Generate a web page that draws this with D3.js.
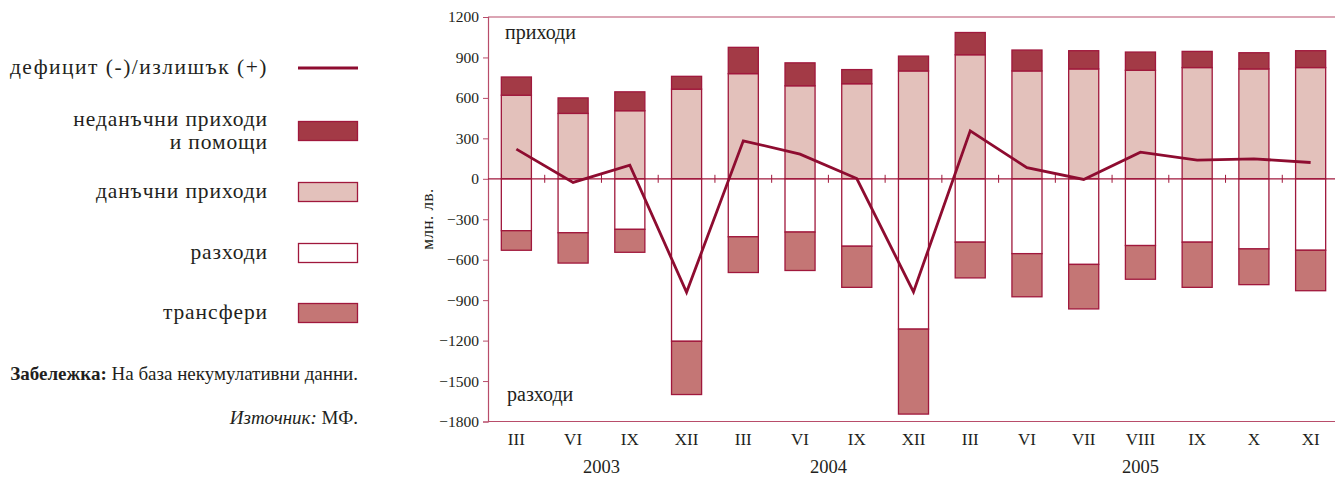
<!DOCTYPE html>
<html>
  <head>
    <meta charset="utf-8">
    <script src="https://d3js.org/d3.v7.min.js"></script>
    <style>
      body { margin: 0; background: #fff; }
    </style>
  </head>
  <body>
    <svg id="chart" width="1335" height="477"></svg>
    <script>
      // months and years
      let months = ['III', 'VI', 'IX', 'XII', 'III', 'VI', 'IX', 'XII', 'III', 'VI', 'VII', 'VIII', 'IX', 'X', 'XI'];
      let years = [{label: '2003', from: 0, to: 3}, {label: '2004', from: 4, to: 7}, {label: '2005', from: 8, to: 14}];

      // млн. лв.
      let taxRevenue    = [620, 485, 505, 665, 780, 690, 705, 800, 920, 800, 815, 805, 825, 815, 825];
      let nonTaxRevenue = [135, 115, 140, 95, 195, 170, 105, 110, 165, 155, 135, 135, 120, 120, 125];
      let expenditure   = [-385, -400, -375, -1205, -430, -395, -500, -1115, -470, -555, -635, -495, -470, -520, -530];
      let transfers     = [-145, -225, -170, -395, -265, -285, -305, -630, -265, -320, -330, -250, -335, -265, -300];
      let balance       = [220, -27, 101, -842, 282, 183, 2, -839, 356, 82, -5, 197, 138, 148, 121];

      let yTicks = [1200, 900, 600, 300, 0, -300, -600, -900, -1200, -1500, -1800];

      let FONT = '"Liberation Serif", "Times New Roman", "DejaVu Serif", serif';
      let stroke = '#a0183c';
      let colTax = '#e3c1bb', colNonTax = '#a33a46', colExp = '#ffffff', colTr = '#c47675';
      let axisCol = '#b84d6a';
      let ink = '#231f20';

      let svg = d3.select('#chart')
        .attr('font-family', FONT);

      let x = d3.scaleBand()
        .domain(d3.range(months.length))
        .range([488, 1339])
        .paddingInner(0.47)
        .paddingOuter(0.235);

      let y = d3.scaleLinear()
        .domain([-1800, 1200])
        .range([421.5, 17]);

      let data = months.map((m, i) => ({
        i: i,
        tax: taxRevenue[i],
        nonTax: nonTaxRevenue[i],
        exp: expenditure[i],
        tr: transfers[i],
        bal: balance[i]
      }));

      // segments: [start, end, fill]
      let segs = [];
      data.forEach(d => {
        segs.push({i: d.i, a: 0, b: d.tax, fill: colTax});
        segs.push({i: d.i, a: d.tax, b: d.tax + d.nonTax, fill: colNonTax});
        segs.push({i: d.i, a: 0, b: d.exp, fill: colExp});
        segs.push({i: d.i, a: d.exp, b: d.exp + d.tr, fill: colTr});
      });

      svg.append('g').selectAll('rect')
        .data(segs)
        .enter().append('rect')
        .attr('x', d => x(d.i))
        .attr('width', x.bandwidth())
        .attr('y', d => y(Math.max(d.a, d.b)))
        .attr('height', d => Math.abs(y(d.a) - y(d.b)))
        .attr('fill', d => d.fill)
        .attr('stroke', stroke)
        .attr('stroke-width', 1.3);

      // frame
      svg.append('line')
        .attr('x1', 488).attr('x2', 1335)
        .attr('y1', y(1200)).attr('y2', y(1200))
        .attr('stroke', axisCol).attr('stroke-width', 1.2);
      svg.append('line')
        .attr('x1', 488).attr('x2', 1335)
        .attr('y1', y(-1800)).attr('y2', y(-1800))
        .attr('stroke', axisCol).attr('stroke-width', 1.2);

      // y axis
      let yAxis = d3.axisLeft(y)
        .tickValues(yTicks)
        .tickSize(5)
        .tickPadding(4)
        .tickFormat(d3.format('d'));

      let ya = svg.append('g')
        .attr('transform', 'translate(488,0)')
        .call(yAxis)
        .attr('font-family', FONT);
      ya.select('.domain').attr('stroke', axisCol).attr('stroke-width', 1.2);
      ya.selectAll('.tick line').attr('stroke', axisCol);
      ya.selectAll('.tick text')
        .attr('font-size', 15.5)
        .attr('fill', ink);

      // zero line with small ticks between bands
      svg.append('line')
        .attr('x1', 488).attr('x2', 1335)
        .attr('y1', y(0)).attr('y2', y(0))
        .attr('stroke', stroke).attr('stroke-width', 1.2);

      let step = x.step();
      svg.append('g').selectAll('line')
        .data(d3.range(1, months.length))
        .enter().append('line')
        .attr('x1', d => x(d) - (step - x.bandwidth()) / 2)
        .attr('x2', d => x(d) - (step - x.bandwidth()) / 2)
        .attr('y1', y(0) - 4)
        .attr('y2', y(0) + 4)
        .attr('stroke', stroke)
        .attr('stroke-width', 1);

      // balance line
      let line = d3.line()
        .x(d => x(d.i) + x.bandwidth() / 2)
        .y(d => y(d.bal));

      svg.append('path')
        .datum(data)
        .attr('d', line)
        .attr('fill', 'none')
        .attr('stroke', '#8e0c30')
        .attr('stroke-width', 2.8)
        .attr('stroke-linejoin', 'miter');

      // x labels
      svg.append('g').selectAll('text')
        .data(months)
        .enter().append('text')
        .attr('x', (d, i) => x(i) + x.bandwidth() / 2)
        .attr('y', 445)
        .attr('text-anchor', 'middle')
        .attr('font-size', 17)
        .attr('fill', ink)
        .text(d => d);

      svg.append('g').selectAll('text')
        .data(years)
        .enter().append('text')
        .attr('x', d => (x(d.from) + x(d.to) + x.bandwidth()) / 2)
        .attr('y', 473)
        .attr('text-anchor', 'middle')
        .attr('font-size', 18.5)
        .attr('fill', ink)
        .text(d => d.label);

      // in-plot captions
      svg.append('text').attr('x', 505).attr('y', 39).attr('font-size', 20).attr('fill', ink).text('приходи');
      svg.append('text').attr('x', 507).attr('y', 401).attr('font-size', 20).attr('fill', ink).text('разходи');

      // y title
      svg.append('text')
        .attr('transform', 'translate(433,219) rotate(-90)')
        .attr('text-anchor', 'middle')
        .attr('font-size', 17)
        .attr('letter-spacing', 0.5)
        .attr('fill', ink)
        .text('млн. лв.');

      // legend
      let legend = [
        {lines: ['дефицит (-)/излишък (+)'], type: 'line', cy: 68},
        {lines: ['неданъчни приходи', 'и помощи'], type: 'rect', fill: colNonTax, cy: 131},
        {lines: ['данъчни приходи'], type: 'rect', fill: colTax, cy: 192},
        {lines: ['разходи'], type: 'rect', fill: colExp, cy: 253},
        {lines: ['трансфери'], type: 'rect', fill: colTr, cy: 313}
      ];

      let lg = svg.append('g').selectAll('g')
        .data(legend)
        .enter().append('g');

      lg.each(function(d) {
        let g = d3.select(this);
        if (d.type === 'line') {
          g.append('line')
            .attr('x1', 298).attr('x2', 358)
            .attr('y1', d.cy).attr('y2', d.cy)
            .attr('stroke', '#8e0c30').attr('stroke-width', 2.8);
        } else {
          g.append('rect')
            .attr('x', 298.5).attr('y', d.cy - 9.5)
            .attr('width', 59).attr('height', 19)
            .attr('fill', d.fill)
            .attr('stroke', stroke).attr('stroke-width', 1.3);
        }
        let n = d.lines.length;
        d.lines.forEach((t, k) => {
          g.append('text')
            .attr('x', 268)
            .attr('y', d.cy + 6 + (k - (n - 1) / 2) * 23)
            .attr('text-anchor', 'end')
            .attr('font-size', 21.5)
            .attr('letter-spacing', d.type === 'line' ? 1.5 : 0.9)
            .attr('fill', ink)
            .text(t);
        });
      });

      // notes
      let note = svg.append('text')
        .attr('x', 358).attr('y', 380)
        .attr('text-anchor', 'end')
        .attr('font-size', 19)
        .attr('fill', ink);
      note.append('tspan').attr('font-weight', 'bold').text('Забележка:');
      note.append('tspan').text(' На база некумулативни данни.');

      let src = svg.append('text')
        .attr('x', 358).attr('y', 424)
        .attr('text-anchor', 'end')
        .attr('font-size', 19)
        .attr('fill', ink);
      src.append('tspan').attr('font-style', 'italic').text('Източник:');
      src.append('tspan').text(' МФ.');
    </script>
  </body>
</html>
